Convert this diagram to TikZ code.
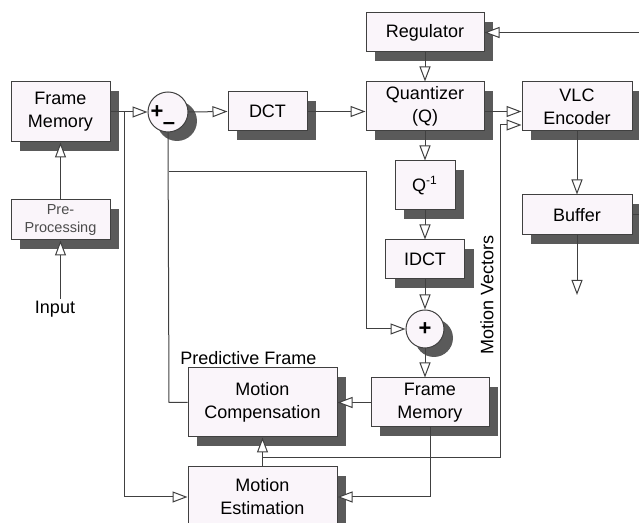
\documentclass[tikz,border=0pt]{standalone}
\usepackage{fontspec}
\setmainfont{Liberation Sans}
\usetikzlibrary{calc,arrows.meta,shadows}
\definecolor{linegray}{RGB}{64,64,64}
\definecolor{shadowgray}{RGB}{90,90,90}
\definecolor{boxfill}{RGB}{250,245,250}
\tikzset{
  box/.style={draw=linegray,line width=0.5pt,fill=boxfill,align=center,inner sep=0pt,
    font=\fontsize{9}{11.5}\selectfont,
    drop shadow={shadow xshift=4.5pt,shadow yshift=-4.5pt,fill=shadowgray,opacity=1}},
  sumnode/.style={circle,draw=linegray,line width=0.5pt,fill=boxfill,minimum size=20pt,inner sep=0pt,
    drop shadow={shadow xshift=4.5pt,shadow yshift=-4.5pt,fill=shadowgray,opacity=1}},
  wire/.style={draw=linegray,line width=0.5pt},
  arr/.style={wire,-{Triangle[fill=white,length=7.5pt,width=5.5pt]}},
  sign/.style={font=\fontsize{11}{11}\selectfont\bfseries,inner sep=0pt}
}

\begin{document}
\begin{tikzpicture}[x=0.5pt,y=-0.5pt]
  \useasboundingbox (0,0) rectangle (639,523);
  \clip (0,0) rectangle (639,523);
  % boxes (pixel coordinates, origin top left)
  \node[box,minimum width=49.5pt,minimum height=30pt] (fmA) at (60.5,112) {Frame\\Memory};
  \node[box,minimum width=49.5pt,minimum height=20pt,text=black!70,font=\fontsize{7.25}{9}\selectfont] (pre) at (60.5,220) {Pre-\\Processing};
  \node[font=\fontsize{9}{11}\selectfont,inner sep=1pt] (input) at (55,309) {Input};
  \node[sumnode] (sub) at (168,112) {};
  \node[sign] at (157,112) {+};
  \node[sign] at (169,126) {--};
  \node[box,minimum width=39.5pt,minimum height=19.5pt] (dct) at (267.5,111.5) {DCT};
  \node[box,minimum width=59pt,minimum height=19.5pt] (reg) at (425,32.5) {Regulator};
  \node[box,minimum width=59pt,minimum height=24.5pt] (quant) at (425,106.5) {Quantizer\\(Q)};
  \node[box,minimum width=55pt,minimum height=24.5pt] (vlc) at (577,106.5) {VLC\\Encoder};
  \node[box,minimum width=55pt,minimum height=20pt] (buf) at (577,215) {Buffer};
  \node[box,minimum width=30pt,minimum height=24.5pt] (qinv) at (425,185.5) {Q\textsuperscript{-1}};
  \node[box,minimum width=39.5pt,minimum height=19.5pt] (idct) at (425,259.5) {IDCT};
  \node[sumnode,minimum size=19pt] (add) at (425,329) {};
  \node[sign] at (425,329) {+};
  \node[box,minimum width=59pt,minimum height=24.5pt] (fmB) at (430,402.5) {Frame\\Memory};
  \node[box,minimum width=74.5pt,minimum height=34.5pt] (mc) at (262.5,402.5) {Motion\\Compensation};
  \node[box,minimum width=74.5pt,minimum height=30pt] (me) at (262.5,497) {Motion\\Estimation};
  \node[anchor=base west,font=\fontsize{9}{11}\selectfont,inner sep=0pt] (pf) at (180,365) {Predictive Frame};
  \node[rotate=90,font=\fontsize{9}{11}\selectfont,inner sep=0pt] (mv) at (487,295) {Motion Vectors};
  \coordinate (bufout) at (577,295);
  % forward path
  \draw[arr] (pre |- input.north) -- (pre);
  \foreach \a/\b in {pre/fmA,reg/quant,quant/qinv,qinv/idct,idct/add,vlc/buf}
    \draw[arr] (\a) -- (\b);
  \draw[arr] (fmA.east) -- (sub.west);
  \draw[arr] (sub.east) -- (dct.west);
  \draw[arr] (dct.east) -- (quant.west |- dct.east);
  \draw[arr] (quant.east |- dct.east) -- (vlc.west |- dct.east);
  \draw[arr] (buf.south) -- (bufout);
  \draw[arr] (buf.east) -- (650,215) -- (650,32.5) -- (reg.east);
  % loop back
  \draw[arr] (add.south) -- (add |- fmB.north);
  \draw[arr] (fmB.west) -- (mc.east);
  \draw[wire] (mc.west) -- (169,402.5) -- (sub.south);
  \draw[arr] (169,172) -- (366,172) -- (366,329) -- (add.west);
  \draw[arr] (124,112) -- (124,497) -- (me.west);
  \draw[arr] (fmB.south) -- (430,497) -- (me.east);
  % motion vectors
  \draw[arr] (me.north) -- (mc.south);
  \draw[arr] (262.5,458) -- (500,458) -- (500,125) -- (vlc.west |- 0,125);
\end{tikzpicture}
\end{document}
